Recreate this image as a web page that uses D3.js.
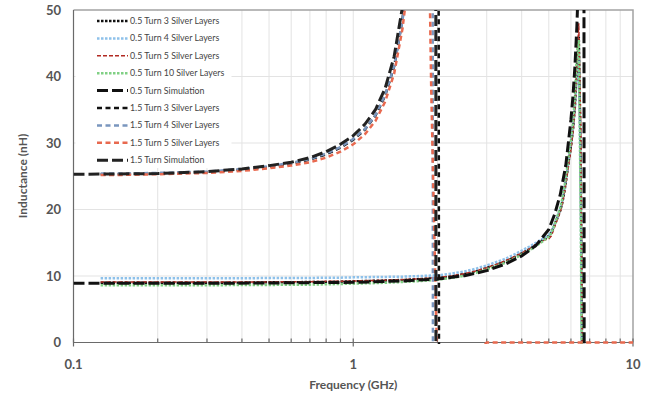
<!DOCTYPE html>
<html>
<head>
<meta charset="utf-8">
<script src="https://cdn.jsdelivr.net/npm/d3@7/dist/d3.min.js"></script>
<style>
body { margin: 0; background: #fff; }
text { font-family: Lato, "Open Sans", sans-serif; }
</style>
</head>
<body>
<div id="chart"><svg></svg></div>
<script>
// frequency grids (GHz)
var freq05 = [0.125, 0.15, 0.2, 0.3, 0.4, 0.5, 0.6, 0.7, 0.8, 0.9,
    1.0, 1.25, 1.5, 1.75, 2.0, 2.25, 2.5, 2.75, 3.0, 3.25,
    3.5, 3.75, 4.0, 4.25, 4.5, 4.75, 5.0, 5.1, 5.2, 5.3,
    5.4, 5.5, 5.6, 5.7, 5.8, 5.9, 6.0, 6.1, 6.2, 6.3,
    6.4, 6.5, 6.6, 6.7, 6.8, 7.0];
var freq05Sim = [0.1, 0.2, 0.3, 0.5, 0.7, 1.0, 1.5, 2.0, 2.5, 3.0, 3.5, 4.0, 4.5, 5.0, 5.25,
    5.5, 5.75, 6.0, 6.1, 6.2, 6.3, 6.4, 6.5, 6.6, 6.65, 6.75, 7.0, 8.0, 10];
var freq15 = [0.125, 0.15, 0.2, 0.3, 0.4, 0.5, 0.6, 0.7, 0.8, 0.9,
    1.0, 1.1, 1.2, 1.3, 1.4, 1.5, 1.6, 1.7, 1.8, 1.85,
    1.9, 1.95, 2.0, 2.05, 2.1, 2.2, 2.4, 2.6, 2.85, 3.0,
    3.5, 4, 5, 6, 7, 8, 9, 10];
var freq15Sim = [0.1, 0.2, 0.3, 0.4, 0.5, 0.6, 0.7, 0.8, 0.9, 1.0,
    1.1, 1.2, 1.3, 1.4, 1.5, 1.6, 1.7, 1.8, 1.9, 1.95,
    2.0, 2.05, 2.2, 2.5, 3.0];

// inductance (nH)
var l05_3 = [9.0, 9.0, 9.0, 9.0, 9.0, 9.05, 9.05, 9.1, 9.1, 9.15,
    9.2, 9.3, 9.4, 9.55, 9.7, 9.95, 10.3, 10.7, 11.2, 11.7,
    12.2, 12.8, 13.4, 14.0, 14.7, 15.4, 16.0, 16.5, 17.3, 18.2,
    19.0, 19.9, 21.2, 23.0, 25.2, 27.5, 29.5, 32.0, 35.5, 41.0,
    46.0, 28.0, -10, -60, -50, -30];
var l05_4 = [9.65, 9.65, 9.65, 9.65, 9.65, 9.7, 9.7, 9.7, 9.75, 9.75,
    9.8, 9.85, 9.9, 10.0, 10.1, 10.35, 10.7, 11.1, 11.6, 12.1,
    12.6, 13.2, 13.8, 14.4, 15.0, 15.6, 16.2, 16.6, 17.4, 18.3,
    19.2, 20.2, 21.5, 23.3, 25.4, 27.7, 29.8, 32.3, 35.6, 40.0,
    44.0, 25.0, -15, -60, -50, -30];
var l05_5 = [9.1, 9.1, 9.1, 9.1, 9.1, 9.1, 9.15, 9.15, 9.2, 9.2,
    9.25, 9.35, 9.45, 9.6, 9.75, 10.0, 10.35, 10.75, 11.25, 11.75,
    12.3, 12.85, 13.45, 14.05, 14.7, 15.3, 15.6, 16.0, 16.9, 17.9,
    18.8, 19.7, 21.0, 22.8, 24.8, 27.0, 29.0, 31.5, 35.0, 41.5,
    48.0, 33.0, -5, -60, -50, -30];
var l05_10 = [8.6, 8.6, 8.6, 8.6, 8.65, 8.65, 8.7, 8.7, 8.75, 8.8,
    8.85, 8.95, 9.1, 9.25, 9.45, 9.7, 10.05, 10.5, 11.0, 11.5,
    12.0, 12.6, 13.2, 13.8, 14.5, 15.2, 15.9, 16.4, 17.3, 18.3,
    19.3, 20.3, 21.8, 23.7, 25.9, 28.2, 30.4, 33.0, 37.0, 43.5,
    45.5, 20.0, -20, -60, -50, -30];
var l05_sim = [8.9, 8.9, 8.9, 8.95, 9.0, 9.05, 9.25, 9.55, 10.05, 10.8, 11.8, 13.0, 14.6, 17.0, 19.3,
    22.3, 26.6, 33.5, 37.0, 41.5, 47.5, 56, 70, 110, 200, -300, -80, -25, -10];
var l15_3 = [25.3, 25.3, 25.4, 25.6, 26.0, 26.4, 26.9, 27.5, 28.3, 29.3,
    30.5, 32.0, 34.1, 37.1, 41.5, 48.6, 60, 80, 130, 180,
    260, 400, 250, -250, -120, -70, -35, -20, -12, -10,
    -7, -5, -3.5, -2.5, -2, -1.8, -1.6, -1.5];
var l15_4 = [25.4, 25.4, 25.5, 25.7, 26.1, 26.5, 27.0, 27.6, 28.4, 29.4,
    30.6, 32.1, 34.2, 37.2, 41.6, 48.4, 59, 78, 125, 200,
    350, -300, -150, -90, -60, -40, -25, -15, -10, -8,
    -6, -4.5, -3, -2.2, -1.8, -1.6, -1.5, -1.4];
var l15_5 = [25.2, 25.2, 25.3, 25.5, 25.8, 26.2, 26.6, 27.1, 27.8, 28.7,
    29.8, 31.3, 33.3, 36.2, 40.4, 47.2, 57, 75, 110, 70,
    38, 16, -5, -40, -60, -45, -20, -5, -1, 0,
    0, 0, 0, 0, 0, 0, 0, 0];
var l15_sim = [25.3, 25.4, 25.7, 26.1, 26.6, 27.1, 27.8, 28.7, 29.8, 31.1,
    32.8, 35.0, 38.2, 43.0, 50.5, 63, 85, 135, 300, 700,
    -700, -300, -120, -50, -25];

var xTicks = [0.1, 1, 10];
var xTickLabels = ["0.1", "1", "10"];
var xMinor = [0.2, 0.3, 0.4, 0.5, 0.6, 0.7, 0.8, 0.9, 2, 3, 4, 5, 6, 7, 8, 9];
var yTicks = [0, 10, 20, 30, 40, 50];

var series = [
    {name: "0.5 Turn 3 Silver Layers", f: freq05, v: l05_3, color: "#111", w: 2.5, dash: "2.5,1.5"},
    {name: "0.5 Turn 4 Silver Layers", f: freq05, v: l05_4, color: "#8ec1ea", w: 2.5, dash: "2.5,1.5"},
    {name: "0.5 Turn 5 Silver Layers", f: freq05, v: l05_5, color: "#b22a22", w: 1.5, dash: "4,2"},
    {name: "0.5 Turn 10 Silver Layers", f: freq05, v: l05_10, color: "#80d084", w: 2.5, dash: "2.5,1.5"},
    {name: "0.5 Turn Simulation", f: freq05Sim, v: l05_sim, color: "#111", w: 3, dash: "11,4"},
    {name: "1.5 Turn 3 Silver Layers", f: freq15, v: l15_3, color: "#111", w: 2.5, dash: "5,3.5"},
    {name: "1.5 Turn 4 Silver Layers", f: freq15, v: l15_4, color: "#7a96be", w: 2.5, dash: "5,3.5"},
    {name: "1.5 Turn 5 Silver Layers", f: freq15, v: l15_5, color: "#e8694f", w: 2.5, dash: "5,3.5"},
    {name: "1.5 Turn Simulation", f: freq15Sim, v: l15_sim, color: "#222", w: 3, dash: "11,4"}
];

var W = 654, H = 401;
var plot = {left: 73.5, right: 633, top: 10, bottom: 342.5};

var svg = d3.select("#chart").select("svg")
    .attr("width", W)
    .attr("height", H);

var x = d3.scaleLog().domain([0.1, 10]).range([plot.left, plot.right]);
var y = d3.scaleLinear().domain([0, 50]).range([plot.bottom, plot.top]);

// gridlines
svg.append("g")
    .selectAll("line")
    .data(xMinor.concat([1]))
    .enter().append("line")
    .attr("x1", function (d) { return x(d); })
    .attr("x2", function (d) { return x(d); })
    .attr("y1", plot.top)
    .attr("y2", plot.bottom)
    .attr("stroke", "#e3e3e3")
    .attr("stroke-width", 1);

svg.append("g")
    .selectAll("line")
    .data([10, 20, 30, 40])
    .enter().append("line")
    .attr("x1", plot.left)
    .attr("x2", plot.right)
    .attr("y1", function (d) { return y(d); })
    .attr("y2", function (d) { return y(d); })
    .attr("stroke", "#e3e3e3")
    .attr("stroke-width", 1);

// plot border (top / right)
svg.append("path")
    .attr("d", "M" + plot.left + "," + plot.top + "H" + plot.right + "V" + plot.bottom)
    .attr("fill", "none")
    .attr("stroke", "#a3a3a3")
    .attr("stroke-width", 1.5);

// axes (drawn under the series, like Excel)
var ax = svg.append("g").attr("stroke", "#6a6a6a").attr("stroke-width", 1.2);
ax.append("line")
    .attr("x1", plot.left).attr("x2", plot.left)
    .attr("y1", plot.top).attr("y2", plot.bottom);
ax.append("line")
    .attr("x1", plot.left).attr("x2", plot.right)
    .attr("y1", plot.bottom).attr("y2", plot.bottom);
ax.selectAll(".minor")
    .data(xMinor)
    .enter().append("line")
    .attr("x1", function (d) { return x(d); })
    .attr("x2", function (d) { return x(d); })
    .attr("y1", plot.bottom - 4)
    .attr("y2", plot.bottom);
ax.selectAll(".major")
    .data(xTicks)
    .enter().append("line")
    .attr("x1", function (d) { return x(d); })
    .attr("x2", function (d) { return x(d); })
    .attr("y1", plot.bottom - 4)
    .attr("y2", plot.bottom + 4);

svg.append("clipPath")
    .attr("id", "clip")
    .append("rect")
    .attr("x", plot.left)
    .attr("y", plot.top)
    .attr("width", plot.right - plot.left)
    .attr("height", plot.bottom - plot.top + 1.5);

var line = d3.line()
    .x(function (d) { return x(d[0]); })
    .y(function (d) { return y(d[1]); });

var lines = svg.append("g").attr("clip-path", "url(#clip)");

series.forEach(function (s) {
    var pts = s.f.map(function (f, i) { return [f, s.v[i]]; });
    lines.append("path")
        .datum(pts)
        .attr("d", line)
        .attr("fill", "none")
        .attr("stroke", s.color)
        .attr("stroke-width", s.w)
        .attr("stroke-dasharray", s.dash);
});

svg.append("g")
    .selectAll("text")
    .data(yTicks)
    .enter().append("text")
    .attr("x", 61)
    .attr("y", function (d) { return y(d); })
    .attr("dy", "0.36em")
    .attr("text-anchor", "end")
    .attr("font-size", 13)
    .attr("font-weight", "bold")
    .attr("fill", "#555")
    .text(function (d) { return d; });

svg.append("g")
    .selectAll("text")
    .data(xTicks)
    .enter().append("text")
    .attr("x", function (d) { return x(d); })
    .attr("y", 369)
    .attr("text-anchor", "middle")
    .attr("font-size", 13)
    .attr("font-weight", "bold")
    .attr("fill", "#555")
    .text(function (d, i) { return xTickLabels[i]; });

svg.append("text")
    .attr("x", x(1))
    .attr("y", 389)
    .attr("text-anchor", "middle")
    .attr("font-size", 12)
    .attr("font-weight", "bold")
    .attr("fill", "#555")
    .text("Frequency (GHz)");

svg.append("text")
    .attr("transform", "translate(27,176) rotate(-90)")
    .attr("text-anchor", "middle")
    .attr("font-size", 12)
    .attr("font-weight", "bold")
    .attr("fill", "#555")
    .text("Inductance (nH)");

// legend
var legend = svg.append("g");
legend.append("rect")
    .attr("x", plot.left + 2)
    .attr("y", plot.top + 1)
    .attr("width", 156)
    .attr("height", 157)
    .attr("fill", "#fff");

var rowY = function (i) { return 21 + i * 17.4; };
series.forEach(function (s, i) {
    legend.append("line")
        .attr("x1", 97).attr("x2", 128)
        .attr("y1", rowY(i)).attr("y2", rowY(i))
        .attr("stroke", s.color)
        .attr("stroke-width", s.w)
        .attr("stroke-dasharray", s.dash);
    legend.append("text")
        .attr("x", 130)
        .attr("y", rowY(i))
        .attr("dy", "0.35em")
        .attr("font-size", 8.8)
        .attr("fill", "#444")
        .text(s.name);
});
</script>
</body>
</html>
